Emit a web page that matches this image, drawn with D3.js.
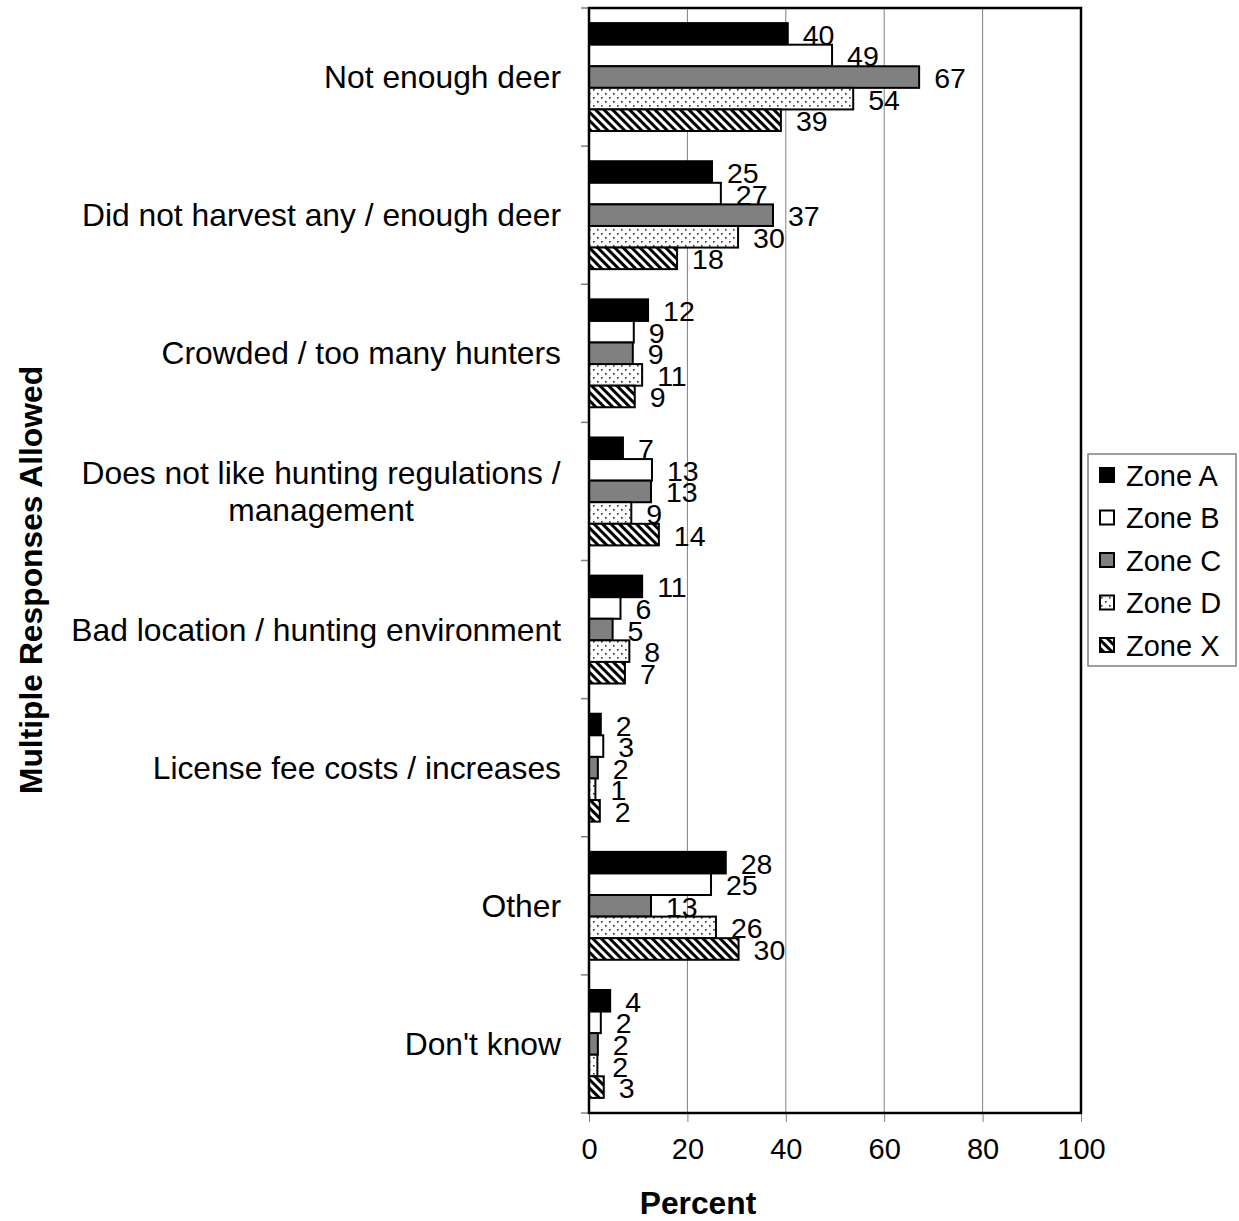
<!DOCTYPE html>
<html><head><meta charset="utf-8">
<script src="https://cdn.jsdelivr.net/npm/d3@7"></script>
<style>body{margin:0;background:#fff;}svg{display:block;font-family:"Liberation Sans",Arial,sans-serif;}</style>
</head><body>
<script>
const categories = [
  ["Not enough deer"],
  ["Did not harvest any / enough deer"],
  ["Crowded / too many hunters"],
  ["Does not like hunting regulations /", "management"],
  ["Bad location / hunting environment"],
  ["License fee costs / increases"],
  ["Other"],
  ["Don't know"]
];
const zones = ["Zone A", "Zone B", "Zone C", "Zone D", "Zone X"];
const zoneA = [40.4, 25.0, 12.0, 6.9, 10.8, 2.4, 27.8, 4.3];
const zoneB = [49.4, 26.8, 9.1, 12.8, 6.4, 2.9, 24.8, 2.4];
const zoneC = [67.1, 37.4, 8.9, 12.6, 4.8, 1.8, 12.6, 1.8];
const zoneD = [53.7, 30.3, 10.8, 8.6, 8.2, 1.3, 25.8, 1.7];
const zoneX = [39.0, 17.9, 9.3, 14.2, 7.3, 2.2, 30.4, 3.0];
const xTicks = [0, 20, 40, 60, 80, 100];
const xTitle = "Percent";
const yTitle = "Multiple Responses Allowed";

const series = [zoneA, zoneB, zoneC, zoneD, zoneX];
const fills = ["#000000", "#ffffff", "#808080", "url(#dots)", "url(#hatch)"];

const W = 1239, H = 1221;
const L = 589, R = 1081, T = 8, B = 1113;
const svg = d3.select("body").append("svg").attr("width", W).attr("height", H);

const defs = svg.append("defs");
const dots = defs.append("pattern").attr("id", "dots").attr("patternUnits", "userSpaceOnUse")
  .attr("width", 8).attr("height", 8);
dots.append("rect").attr("width", 8).attr("height", 8).attr("fill", "#fff");
dots.append("rect").attr("x", 1).attr("y", 1).attr("width", 1.6).attr("height", 1.6).attr("fill", "#333");
dots.append("rect").attr("x", 5).attr("y", 5).attr("width", 1.6).attr("height", 1.6).attr("fill", "#333");
const hatch = defs.append("pattern").attr("id", "hatch").attr("patternUnits", "userSpaceOnUse")
  .attr("width", 6).attr("height", 6).attr("patternTransform", "rotate(-45)");
hatch.append("rect").attr("width", 6).attr("height", 6).attr("fill", "#fff");
hatch.append("rect").attr("x", 0).attr("y", 0).attr("width", 3).attr("height", 6).attr("fill", "#000");

const x = d3.scaleLinear().domain([0, 100]).range([L, R]);
const y = d3.scaleBand().domain(d3.range(categories.length)).range([T, B]).paddingInner(0).paddingOuter(0);
const inner = d3.scaleBand().domain(d3.range(zones.length)).range([0, y.bandwidth()]).paddingInner(0).paddingOuter(0.7);

// gridlines
svg.append("g").selectAll("line").data(xTicks.slice(1, -1)).join("line")
  .attr("x1", d => x(d)).attr("x2", d => x(d)).attr("y1", T).attr("y2", B)
  .attr("stroke", "#808080").attr("stroke-width", 1);

// x axis
const xAxis = svg.append("g").attr("transform", `translate(0,${B})`)
  .call(d3.axisBottom(x).tickValues(xTicks).tickSize(9).tickPadding(16));
xAxis.select(".domain").remove();
xAxis.selectAll(".tick line").attr("stroke", "#808080");
xAxis.selectAll(".tick text").attr("font-size", 29).attr("fill", "#000")
  .attr("font-family", "Liberation Sans, Arial, sans-serif");

// y axis ticks at band boundaries
const bounds = d3.range(categories.length + 1).map(i => T + i * y.step());
svg.append("g").selectAll("line").data(bounds).join("line")
  .attr("x1", L - 8).attr("x2", L).attr("y1", d => d).attr("y2", d => d)
  .attr("stroke", "#808080").attr("stroke-width", 1.5);

// bars
const g = svg.append("g");
series.forEach((vals, si) => {
  g.selectAll(null).data(vals).join("rect")
    .attr("x", x(0))
    .attr("y", (d, i) => y(i) + inner(si))
    .attr("width", d => x(d) - x(0))
    .attr("height", inner.bandwidth())
    .attr("fill", fills[si])
    .attr("stroke", "#000").attr("stroke-width", 2);
});
series.forEach((vals, si) => {
  g.selectAll(null).data(vals).join("text")
    .attr("x", d => x(d) + 15)
    .attr("y", (d, i) => y(i) + inner(si) + inner.bandwidth() / 2 + 11)
    .attr("font-size", 28.5).attr("fill", "#000")
    .text(d => Math.round(d));
});

// plot border
svg.append("rect").attr("x", L).attr("y", T).attr("width", R - L).attr("height", B - T)
  .attr("fill", "none").attr("stroke", "#000").attr("stroke-width", 2.5);

// category labels
categories.forEach((lines, i) => {
  const cy = y(i) + y.bandwidth() / 2;
  const lh = 37;
  const t = svg.append("text").attr("text-anchor", lines.length > 1 ? "middle" : "end")
    .attr("font-size", 31.8).attr("fill", "#000");
  lines.forEach((ln, k) => {
    t.append("tspan")
      .attr("x", lines.length > 1 ? 321 : 561)
      .attr("y", cy + (k - (lines.length - 1) / 2) * lh + 11)
      .text(ln);
  });
});

// axis titles
svg.append("text").attr("x", 698).attr("y", 1214)
  .attr("text-anchor", "middle").attr("font-size", 31.8).attr("font-weight", "bold").text(xTitle);
svg.append("text").attr("transform", `translate(42,${580}) rotate(-90)`)
  .attr("text-anchor", "middle").attr("font-size", 31.8).attr("font-weight", "bold").text(yTitle);

// legend
const lg = svg.append("g");
lg.append("rect").attr("x", 1088).attr("y", 454).attr("width", 148).attr("height", 212)
  .attr("fill", "#fff").attr("stroke", "#808080").attr("stroke-width", 1.5);
zones.forEach((z, i) => {
  const cy = 475 + i * 42.5;
  lg.append("rect").attr("x", 1100).attr("y", cy - 7).attr("width", 14).attr("height", 14)
    .attr("fill", fills[i]).attr("stroke", "#000").attr("stroke-width", 2);
  lg.append("text").attr("x", 1126).attr("y", cy + 10.5).attr("font-size", 29).text(z);
});
</script>
</body></html>
